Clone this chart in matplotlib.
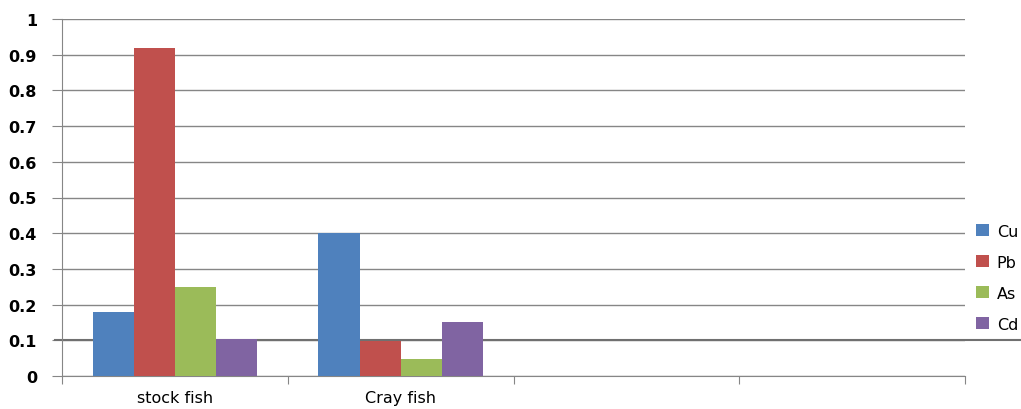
import matplotlib.pyplot as plt
import numpy as np
import matplotlib.transforms as mtransforms

# data
categories = ['stock fish', 'Cray fish', '', '']
metals = ['Cu', 'Pb', 'As', 'Cd']
cu = [0.178, 0.40, 0, 0]
pb = [0.92, 0.097, 0, 0]
as_ = [0.25, 0.048, 0, 0]
cd = [0.105, 0.15, 0, 0]
colors = ['#4F81BD', '#C0504D', '#9BBB59', '#8064A2']

fig = plt.figure(figsize=(10.21, 4.10), dpi=100)
ax = fig.add_axes([62 / 1021, 1 - 377 / 410, (965 - 62) / 1021, (377 - 20) / 410])

x = np.arange(len(categories))
width = 0.182
series = [cu, pb, as_, cd]
for i, (vals, name, c) in enumerate(zip(series, metals, colors)):
    ax.bar(x + (i - 1.5) * width, vals, width, color=c, label=name, zorder=3)

ax.set_xlim(-0.5, len(categories) - 0.5)
ax.set_ylim(0, 1)

# gridlines
ax.set_yticks(np.arange(0, 1.01, 0.1))
ax.set_yticklabels(['0', '0.1', '0.2', '0.3', '0.4', '0.5', '0.6', '0.7', '0.8', '0.9', '1'],
                   fontsize=11.5, fontweight='bold')
ax.yaxis.grid(True, color='#868686', linewidth=1, zorder=0)
ax.tick_params(axis='y', length=7, color='#868686', pad=11)

# darker line at 0.1 running past the plot, behind the bars
trans = mtransforms.blended_transform_factory(ax.transAxes, ax.transData)
ax.plot([-7 / 903, (1021 - 62) / 903], [0.1, 0.1], transform=trans, color='#707070',
        linewidth=1.5, clip_on=False, zorder=2)

# x ticks at category boundaries, labels in middle
ax.set_xticks(np.arange(-0.5, len(categories), 1))
ax.set_xticklabels([])
ax.set_xticks(x, minor=True)
ax.set_xticklabels(categories, minor=True, fontsize=11.5)
ax.tick_params(axis='x', which='major', length=6, color='#868686')
ax.tick_params(axis='x', which='minor', length=0, pad=10)

for s in ['top', 'right']:
    ax.spines[s].set_visible(False)
for s in ['left', 'bottom']:
    ax.spines[s].set_color('#868686')

fig.legend(loc='center left', bbox_to_anchor=(0.956, 0.32), frameon=False,
           fontsize=11.5, handlelength=0.8, handleheight=0.8, handletextpad=0.5,
           labelspacing=1.0, borderaxespad=0, borderpad=0)

fig.savefig('out.png', dpi=100)
